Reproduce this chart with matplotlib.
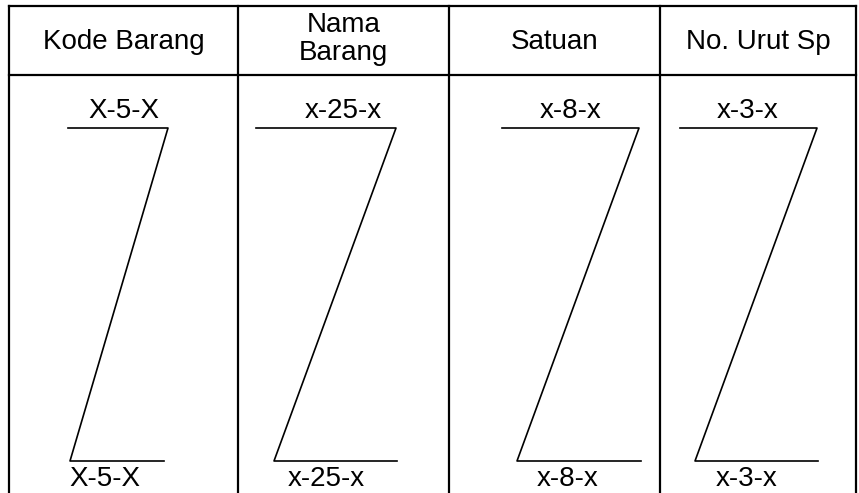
import matplotlib
matplotlib.use("Agg")
import matplotlib.pyplot as plt

plt.rcParams["font.family"] = ["Liberation Sans", "DejaVu Sans"]

# table content
headers = ["Kode Barang", "Nama\nBarang", "Satuan", "No. Urut Sp"]
codes = ["X-5-X", "x-25-x", "x-8-x", "x-3-x"]

# layout (pixels, origin top-left)
W, H = 859, 493
col_edges = [9, 238, 449, 660, 856]
top_y, head_y = 6, 75
z_top_y, z_bot_y = 128, 461
z_top = [(68, 168), (256, 396), (502, 639), (680, 817)]
z_bot = [(70, 164), (274, 397), (517, 641), (695, 818)]
top_lbl_x = [124, 343, 571, 748]
bot_lbl_x = [105, 326, 568, 747]
FS = 20

fig = plt.figure(figsize=(W / 100, H / 100), dpi=100)
ax = fig.add_axes([0, 0, 1, 1])
ax.set_xlim(0, W)
ax.set_ylim(H, 0)
ax.axis("off")

# grid
ax.plot([col_edges[0], col_edges[-1]], [top_y, top_y], color="black", lw=1.6)
ax.plot([col_edges[0], col_edges[-1]], [head_y, head_y], color="black", lw=1.6)
for x in col_edges:
    ax.plot([x, x], [top_y, H + 2], color="black", lw=1.6)

for i, h in enumerate(headers):
    cx = (col_edges[i] + col_edges[i + 1]) / 2
    lines = h.split("\n")
    if len(lines) == 1:
        ax.text(cx, 49, h, ha="center", va="baseline", fontsize=FS)
    else:
        for j, ln in enumerate(lines):
            ax.text(cx, 32 + 28 * j, ln, ha="center", va="baseline", fontsize=FS)

# Z marks
for i in range(len(codes)):
    (tx0, tx1), (bx0, bx1) = z_top[i], z_bot[i]
    ax.plot([tx0, tx1, bx0, bx1], [z_top_y, z_top_y, z_bot_y, z_bot_y],
            color="black", lw=1.2)
    ax.text(top_lbl_x[i], 118, codes[i], ha="center", va="baseline", fontsize=FS)
    ax.text(bot_lbl_x[i], 486, codes[i], ha="center", va="baseline", fontsize=FS)

fig.savefig("out.png", dpi=100)
